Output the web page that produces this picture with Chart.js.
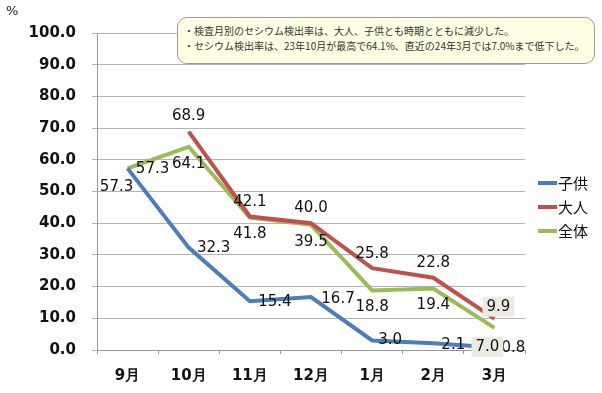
<!DOCTYPE html>
<html lang="ja">
<head>
    <meta charset="UTF-8">
    <title>セシウム検出率</title>
    <script src="https://cdn.jsdelivr.net/npm/chart.js@4.4.0/dist/chart.umd.min.js"></script>
    <style>
        * { margin: 0; padding: 0; box-sizing: border-box; }
        body { background: #fff; width: 602px; height: 393px; overflow: hidden; position: relative; }
        #wrap { position: absolute; left: 0; top: 0; width: 602px; height: 393px; }
        .unit {
            position: absolute; left: 6px; top: 3px;
            font: 13px 'DejaVu Sans', sans-serif; color: #222;
        }
        .note {
            position: absolute; left: 177px; top: 17px; width: 418px; height: 47px;
            background: #ffffe3; border: 1px solid #9a9a9a; border-radius: 10px;
            padding: 5px 0 0 6px;
            font: 10px 'Noto Sans CJK JP', sans-serif; color: #333; line-height: 15px;
            white-space: nowrap;
        }
    </style>
</head>
<body>
    <div id="wrap"><canvas id="chart" width="602" height="393"></canvas></div>
    <div class="unit">%</div>
    <div class="note">
        ・検査月別のセシウム検出率は、大人、子供とも時期とともに減少した。<br>
        ・セシウム検出率は、23年10月が最高で64.1%、直近の24年3月では7.0%まで低下した。
    </div>

    <script>
        // data
        const months = ['9月', '10月', '11月', '12月', '1月', '2月', '3月'];
        const children = [57.3, 32.3, 15.4, 16.7, 3.0, 2.1, 0.8];
        const adults = [null, 68.9, 42.1, 40.0, 25.8, 22.8, 9.9];
        const total = [57.3, 64.1, 41.8, 39.5, 18.8, 19.4, 7.0];
        const yTicks = [0, 10, 20, 30, 40, 50, 60, 70, 80, 90, 100];

        // label placement (px offsets from the point), boxed labels
        const labelOffsets = [
            [[-11, 19], [25, 1], [25, 1], [27, 2], [18, 0], [20, 2], [19, 1]],
            [null, [0, -15], [0, -14], [0, -15], [0, -14], [0, -15], [4, -12]],
            [[25, 1], [0, 17], [0, 17], [0, 17], [0, 17], [0, 17], [-7, 19]]
        ];
        const boxed = { '1-6': true, '2-6': true };

        const valueLabels = {
            id: 'valueLabels',
            afterDatasetsDraw(chart) {
                const ctx = chart.ctx;
                ctx.save();
                ctx.font = '15px "DejaVu Sans", sans-serif';
                ctx.textAlign = 'center';
                ctx.textBaseline = 'middle';
                chart.data.datasets.forEach((ds, di) => {
                    const meta = chart.getDatasetMeta(di);
                    ds.data.forEach((v, i) => {
                        if (v === null) return;
                        const pt = meta.data[i];
                        const off = labelOffsets[di][i];
                        const x = pt.x + off[0];
                        const y = pt.y + off[1];
                        const txt = v.toFixed(1);
                        if (boxed[di + '-' + i]) {
                            const w = ctx.measureText(txt).width + 8;
                            ctx.fillStyle = '#ebebe4';
                            ctx.fillRect(x - w / 2, y - 10, w, 20);
                        }
                        ctx.fillStyle = '#111';
                        ctx.fillText(txt, x, y);
                    });
                });
                ctx.restore();
            }
        };

        const sideLegend = {
            id: 'sideLegend',
            afterDraw(chart) {
                const ctx = chart.ctx;
                ctx.save();
                ctx.font = '15px "Noto Sans CJK JP", sans-serif';
                ctx.textBaseline = 'middle';
                chart.data.datasets.forEach((ds, i) => {
                    const y = 183 + i * 24;
                    ctx.strokeStyle = ds.borderColor;
                    ctx.lineWidth = 4;
                    ctx.beginPath();
                    ctx.moveTo(538, y);
                    ctx.lineTo(557, y);
                    ctx.stroke();
                    ctx.fillStyle = '#111';
                    ctx.fillText(ds.label, 558, y);
                });
                ctx.restore();
            }
        };

        new Chart(document.getElementById('chart'), {
            type: 'line',
            data: {
                labels: months,
                datasets: [
                    { label: '子供', data: children, borderColor: '#4a7ebb' },
                    { label: '大人', data: adults, borderColor: '#c0504d' },
                    { label: '全体', data: total, borderColor: '#9bbb59' }
                ]
            },
            options: {
                responsive: false,
                animation: false,
                layout: { padding: { top: 33, right: 77, left: 0, bottom: 0 } },
                elements: {
                    line: { borderWidth: 4, tension: 0 },
                    point: { radius: 0 }
                },
                plugins: { legend: { display: false }, tooltip: { enabled: false } },
                scales: {
                    x: {
                        offset: true,
                        afterFit: s => { s.height = 43; },
                        grid: { offset: true, drawOnChartArea: false, drawTicks: true, tickLength: 4, color: '#999' },
                        border: { color: '#999' },
                        ticks: {
                            padding: 13,
                            color: '#111',
                            font: { family: 'DejaVu Sans', size: 15, weight: 'bold' }
                        }
                    },
                    y: {
                        min: 0,
                        max: 100,
                        afterFit: s => { s.width = 97; },
                        afterBuildTicks: s => { s.ticks = yTicks.map(v => ({ value: v })); },
                        grid: { color: '#b4b4b4', tickLength: 5 },
                        border: { color: '#999' },
                        ticks: {
                            padding: 16,
                            color: '#111',
                            font: { family: 'DejaVu Sans', size: 15, weight: 'bold' },
                            callback: v => v.toFixed(1)
                        }
                    }
                }
            },
            plugins: [valueLabels, sideLegend]
        });
    </script>
</body>
</html>
